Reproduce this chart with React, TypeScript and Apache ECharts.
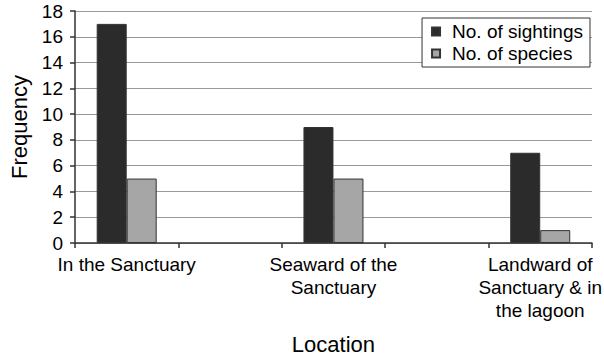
import React, { useEffect, useRef } from "react";
import * as echarts from "echarts";

const categories = [
  "In the Sanctuary",
  "",
  "Seaward of the\nSanctuary",
  "",
  "Landward of\nSanctuary & in\nthe lagoon",
];
const sightings = [17, null, 9, null, 7];
const species = [5, null, 5, null, 1];
const seriesNames = ["No. of sightings", "No. of species"];

const FONT = "'Liberation Sans', Arial, sans-serif";

export default function App() {
  const ref = useRef<HTMLDivElement>(null);
  useEffect(() => {
    document.body.style.margin = "0";
    if (!ref.current) return;
    const chart = echarts.init(ref.current, undefined, { renderer: "svg" });
    chart.setOption({
      animation: false,
      backgroundColor: "#fff",
      textStyle: { fontFamily: FONT },
      grid: { left: 67, right: 10, top: 11, bottom: 117, containLabel: false },
      legend: {
        orient: "vertical",
        right: 14,
        top: 18,
        padding: [4, 7, 4, 9],
        itemWidth: 8,
        itemHeight: 8,
        itemGap: 3,
        icon: "rect",
        borderColor: "#333",
        borderWidth: 1,
        backgroundColor: "#fff",
        textStyle: { fontSize: 19, color: "#000", fontFamily: FONT, padding: [0, 0, 0, 7] },
        data: seriesNames,
      },
      xAxis: {
        type: "category",
        data: categories,
        boundaryGap: true,
        name: "Location",
        nameLocation: "middle",
        nameGap: 90,
        nameTextStyle: { fontSize: 22, color: "#000", fontFamily: FONT },
        axisLine: { show: true, lineStyle: { color: "#333", width: 1.5 } },
        axisTick: { show: true, interval: 0, alignWithLabel: false, length: 5, lineStyle: { color: "#333", width: 1.5 } },
        axisLabel: { interval: 0, fontSize: 19, color: "#000", lineHeight: 23, margin: 10, fontFamily: FONT },
        splitLine: { show: false },
      },
      yAxis: {
        type: "value",
        min: 0,
        max: 18,
        interval: 2,
        name: "Frequency",
        nameLocation: "middle",
        nameGap: 45,
        nameTextStyle: { fontSize: 22, color: "#000", fontFamily: FONT },
        axisLine: { show: true, lineStyle: { color: "#333", width: 1.5 } },
        axisTick: { show: true, length: 5, lineStyle: { color: "#333", width: 1.5 } },
        axisLabel: { fontSize: 19, color: "#000", margin: 12, fontFamily: FONT },
        splitLine: { show: true, lineStyle: { color: "#999", width: 1 } },
      },
      series: [
        {
          name: seriesNames[0],
          type: "bar",
          data: sightings,
          barWidth: 30,
          barGap: "0%",
          itemStyle: { color: "#2b2b2b", borderColor: "#333", borderWidth: 1 },
        },
        {
          name: seriesNames[1],
          type: "bar",
          data: species,
          barWidth: 30,
          barGap: "0%",
          itemStyle: { color: "#a6a6a6", borderColor: "#333", borderWidth: 1 },
        },
      ],
    });
    return () => chart.dispose();
  }, []);
  return <div ref={ref} style={{ width: 604, height: 360 }} />;
}
